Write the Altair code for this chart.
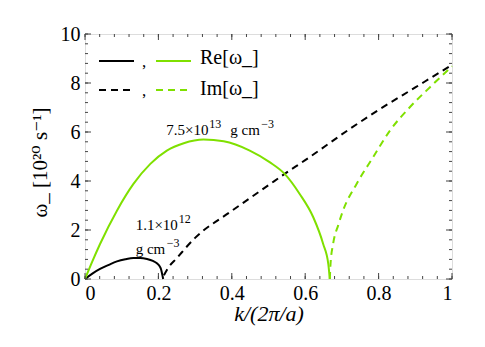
import altair as alt
import pandas as pd

# ---- data ----
k_re_low = [0.0, 0.02, 0.041, 0.065, 0.087, 0.11, 0.132, 0.15, 0.169, 0.185, 0.196, 0.203, 0.207, 0.211, 0.213]
w_re_low = [0.0, 0.22, 0.41, 0.58, 0.72, 0.81, 0.86, 0.86, 0.82, 0.74, 0.64, 0.53, 0.41, 0.15, 0.0]

k_im_low = [0.215, 0.225, 0.25, 0.3, 0.394, 0.432, 0.5, 0.544, 0.6, 0.722, 0.8, 0.9, 1.0]
w_im_low = [0.15, 0.42, 0.85, 1.68, 2.72, 3.12, 3.83, 4.29, 4.85, 6.13, 6.9, 7.82, 8.74]

k_re_high = [0.0, 0.02, 0.041, 0.087, 0.132, 0.178, 0.223, 0.269, 0.323, 0.378, 0.449, 0.503,
             0.544, 0.585, 0.622, 0.649, 0.663, 0.667]
w_re_high = [0.0, 0.72, 1.43, 2.79, 3.88, 4.70, 5.24, 5.54, 5.69, 5.62, 5.24, 4.77,
             4.29, 3.47, 2.52, 1.43, 0.61, 0.0]

k_im_high = [0.667, 0.669, 0.676, 0.69, 0.703, 0.74, 0.785, 0.831, 0.885, 0.94, 1.0]
w_im_high = [0.0, 0.61, 1.43, 2.2, 2.79, 3.88, 4.97, 6.06, 7.01, 7.83, 8.68]

x_major = [0, 0.2, 0.4, 0.6, 0.8, 1.0]
x_minor = [i * 0.04 for i in range(26)]
y_major = [0, 2, 4, 6, 8, 10]
y_minor = [i * 0.4 for i in range(26)]

# annotation pieces: text, anchor k, anchor w, x offset (px), raised?
ann_text = ["7.5×10", "13", "g cm", "−3", "1.1×10", "12", "g cm", "−3"]
ann_k = [0.2215, 0.2215, 0.2215, 0.2215, 0.138, 0.138, 0.138, 0.138]
ann_w = [5.86, 5.86, 5.86, 5.86, 2.0, 2.0, 1.03, 1.03]
ann_dx = [0, 43, 64, 95, 0, 43, 0, 31]
ann_sup = [False, True, False, True, False, True, False, True]

W, H = 367, 245
GREEN = "#7fe000"
FONT = "Liberation Serif, DejaVu Serif, serif"

def series(k, w, name):
    return pd.DataFrame({"k": k, "w": w, "s": name})

xs = alt.Scale(domain=[0, 1], nice=False)
ys = alt.Scale(domain=[0, 10], nice=False)

xax = alt.Axis(values=x_major, labelExpr="format(datum.value, '~g')", ticks=False,
               domain=False, grid=False, labelFont=FONT, labelFontSize=20, labelColor="black",
               labelPadding=4, title="k/(2π/a)", titleFont=FONT, titleFontSize=22,
               titleFontStyle="italic", titleFontWeight="normal", titleColor="black", titlePadding=0)
yax = alt.Axis(values=y_major, format="d", ticks=False, domain=False, grid=False,
               labelFont=FONT, labelFontSize=20, labelColor="black", labelPadding=5,
               title="ω_ [10²⁰ s⁻¹]", titleFont=FONT, titleFontSize=21, titleY=128,
               titleFontWeight="normal", titleColor="black", titlePadding=10)

def line(df, color, dash=None, axes=False):
    kw = dict(color=color, strokeWidth=2, interpolate="monotone")
    if dash:
        kw["strokeDash"] = dash
    m = alt.Chart(df).mark_line(**kw)
    if axes:
        return m.encode(x=alt.X("k:Q", scale=xs, axis=xax), y=alt.Y("w:Q", scale=ys, axis=yax))
    return m.encode(x=alt.X("k:Q", scale=xs), y=alt.Y("w:Q", scale=ys))

l1 = line(series(k_re_low, w_re_low, "a"), "black", axes=True)
l2 = line(series(k_im_low, w_im_low, "b"), "black", dash=[7, 5])
l3 = line(series(k_re_high, w_re_high, "c"), GREEN)
l4 = line(series(k_im_high, w_im_high, "d"), GREEN, dash=[7, 5])

# inward ticks on all four sides
def xticks(vals, length):
    df = pd.DataFrame({"k": vals})
    b = alt.Chart(df).mark_rule(color="#444", strokeWidth=1).encode(
        x=alt.X("k:Q", scale=xs), y=alt.value(H), y2=alt.value(H - length))
    t = alt.Chart(df).mark_rule(color="#444", strokeWidth=1).encode(
        x=alt.X("k:Q", scale=xs), y=alt.value(0), y2=alt.value(length))
    return b + t

def yticks(vals, length):
    df = pd.DataFrame({"w": vals})
    l = alt.Chart(df).mark_rule(color="#444", strokeWidth=1).encode(
        y=alt.Y("w:Q", scale=ys), x=alt.value(0), x2=alt.value(length))
    r = alt.Chart(df).mark_rule(color="#444", strokeWidth=1).encode(
        y=alt.Y("w:Q", scale=ys), x=alt.value(W), x2=alt.value(W - length))
    return l + r

ticks = xticks(x_major, 6) + xticks(x_minor, 3) + yticks(y_major, 6) + yticks(y_minor, 3)

ann_df = pd.DataFrame({"t": ann_text, "k": ann_k, "w": ann_w, "dx": ann_dx, "sup": ann_sup})
ann_layers = []
for i, row in ann_df.iterrows():
    sup = bool(row["sup"])
    ann_layers.append(
        alt.Chart(ann_df.iloc[[i]]).mark_text(
            font=FONT, fontSize=12 if sup else 15, align="left", baseline="alphabetic",
            color="black", dx=int(row["dx"]), dy=-7 if sup else 0).encode(
            x=alt.X("k:Q", scale=xs), y=alt.Y("w:Q", scale=ys), text="t:N"))
ann = alt.layer(*ann_layers)

# legend (drawn as glyphs inside the frame)
def leg_seg(x1, x2, yy, color, dash=None):
    kw = dict(color=color, strokeWidth=2)
    if dash:
        kw["strokeDash"] = dash
    return alt.Chart(pd.DataFrame({"a": [0]})).mark_rule(**kw).encode(
        x=alt.value(x1), x2=alt.value(x2), y=alt.value(yy))

def leg_text(txt, xx, yy, size=20):
    return alt.Chart(pd.DataFrame({"t": [txt]})).mark_text(
        font=FONT, fontSize=size, align="left", baseline="middle", color="black").encode(
        x=alt.value(xx), y=alt.value(yy), text="t:N")

legend = (leg_seg(14, 49, 27, "black") + leg_text(",", 57, 28, 17) + leg_seg(71, 106, 27, GREEN)
          + leg_text("Re[ω_]", 115, 24)
          + leg_seg(14, 49, 56, "black", [7, 5]) + leg_text(",", 57, 57, 17)
          + leg_seg(71, 106, 56, GREEN, [7, 5]) + leg_text("Im[ω_]", 115, 55))

chart = alt.layer(l1, l2, l3, l4, ticks, ann, legend).properties(
    width=W, height=H,
    autosize=alt.AutoSizeParams(type="none"),
    padding={"left": 77, "top": 26, "right": 25, "bottom": 60},
).configure_view(stroke="#555", strokeWidth=1.2).configure(background="white")

chart.save("out.html", embed_options={"renderer": "svg", "actions": False})
